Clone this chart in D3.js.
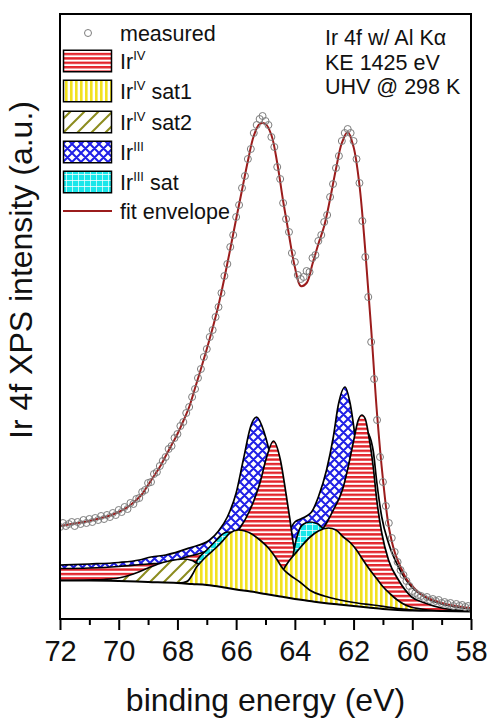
<!DOCTYPE html>
<html>
<head>
<meta charset="utf-8">
<script src="https://cdn.jsdelivr.net/npm/d3@7"></script>
<style>
  body { margin: 0; background: #fff; }
  svg text { font-family: "Liberation Sans", Arial, sans-serif; fill: #111; }
</style>
</head>
<body>
<svg id="chart" width="488" height="720"></svg>
<script>
// measured points, 72.0 -> 58.0 eV in 0.1 eV steps (a.u.)
const measured = [
  92, 96, 93, 95, 97, 93, 97, 95, 99, 96,
  100, 97, 101, 99, 103, 100, 104, 102, 106, 104,
  109, 107, 112, 110, 116, 115, 120, 121, 127, 129,
  136, 137, 145, 147, 153, 158, 162, 170, 173, 181,
  185, 193, 197, 206, 212, 222, 230, 241, 250, 262,
  270, 282, 289, 302, 312, 326, 343, 355, 372, 384,
  402, 414, 431, 443, 460, 470, 486, 494, 500, 503,
  498, 494, 482, 472, 452, 440, 416, 400, 387, 366,
  357, 344, 340, 342, 348, 347, 361, 364, 378, 384,
  397, 404, 422, 435, 451, 463, 478, 486, 490, 486,
  478, 460, 436, 398, 362, 322, 277, 240, 199, 162,
  137, 113, 96, 81, 67, 57, 49, 44, 38, 33,
  28, 26, 24, 23, 21, 22, 19, 20, 18, 19,
  16, 17, 15, 16, 13, 15, 13, 14, 12, 13,
  11
];
const measuredEnergy = d3.range(measured.length).map(i => +(72 - i * 0.1).toFixed(1));

// fit envelope, 72.0 -> 58.0 eV in 0.2 eV steps
const envelope = [
  93, 94, 95, 96, 97, 98, 99.5, 101, 102.5, 104.5,
  107, 110, 114, 119, 125, 134, 143, 152, 163, 174,
  185, 198, 212, 231, 250, 270, 291, 314, 341, 370,
  400, 429, 458, 483, 495, 495, 484, 456, 418, 384,
  352, 333, 336, 355, 375, 393, 420, 450, 476, 487,
  472, 434, 368, 290, 205, 140, 92, 67, 52, 40,
  33, 27, 23, 20, 18, 16, 14.5, 13.5, 12.5, 11.5,
  11
];
const envelopeEnergy = d3.range(envelope.length).map(i => +(72 - i * 0.2).toFixed(1));

// fit components as drawn (background included), [eV, intensity]
const background = [[72, 38.5], [71, 38.5], [70, 38], [69, 37], [68, 36], [67.5, 35], [67, 34], [66.5, 32],
  [66, 29.5], [65.5, 27.5], [65, 25], [64.5, 22.5], [64, 20], [63.5, 18], [63, 16], [62.5, 14.5], [62, 13],
  [61.5, 11.5], [61, 10], [60.5, 9], [60, 8.5], [59, 8], [58, 7.5]];

const ir3a = [[72, 54], [71, 55], [70, 56.5], [69.3, 59], [68.9, 62], [68.4, 64], [67.6, 71], [66.9, 79],
  [66.6, 88], [66.3, 102], [66.0, 126], [65.75, 160], [65.5, 193], [65.3, 202], [65.05, 187], [64.8, 158],
  [64.6, 125], [64.4, 95], [64.2, 72], [64.0, 56], [63.7, 43], [63.3, 32], [63, 27], [62.5, 21], [62, 17],
  [61, 11.5], [60, 9], [58, 7.5]];

const ir3b = [[72, 39], [68, 37], [67, 36], [66, 36], [65.5, 44], [65, 52], [64.5, 72], [64.2, 88], [64.0, 97],
  [63.8, 100], [63.6, 103], [63.43, 107], [63.2, 122], [62.92, 149], [62.69, 182], [62.52, 214], [62.29, 232],
  [62.12, 216], [61.9, 172], [61.7, 130], [61.5, 90], [61.3, 60], [61.0, 35], [60.5, 20], [60, 13], [59, 9],
  [58, 7.5]];

const ir4a = [[72, 50.5], [71, 51], [70, 52.5], [69, 55], [68.5, 56], [68, 59], [67.7, 62], [67.3, 65],
  [67, 68], [66.5, 75], [66.2, 81], [65.87, 91], [65.53, 109], [65.19, 136], [64.96, 162], [64.73, 178],
  [64.5, 160], [64.3, 125], [64.17, 100], [64.05, 75], [63.95, 62], [63.8, 48], [63.6, 36], [63.3, 27],
  [63, 22], [62.5, 18], [62, 15], [61, 11], [60, 8.5], [58, 7.5]];

const ir4b = [[72, 41], [70, 42], [68, 44], [66, 50], [65, 55], [64.5, 59], [64, 65], [63.5, 75], [63.2, 84],
  [62.92, 96], [62.69, 109], [62.5, 120], [62.35, 132], [62.2, 150], [62.0, 178], [61.85, 198], [61.72, 204],
  [61.6, 200], [61.5, 186], [61.33, 152], [61.21, 119], [61.04, 86], [60.81, 59], [60.47, 39], [60.02, 22],
  [59.57, 16], [59, 11], [58.5, 9], [58, 8]];

const ir3satA = [[68, 36], [67.8, 38], [67.5, 50], [67.3, 60], [67.0, 69], [66.7, 78], [66.5, 84], [66.3, 87],
  [66.1, 86], [65.9, 81], [65.6, 70], [65.3, 57], [65.0, 45], [64.6, 33], [64.2, 25], [63.8, 21], [63, 16]];

const ir3satB = [[65, 25], [64.6, 30], [64.3, 40], [64.1, 58], [63.95, 80], [63.75, 94], [63.5, 97],
  [63.25, 95.5], [63.0, 89], [62.7, 78], [62.4, 63], [62.0, 40], [61.6, 22], [61.2, 13], [61.0, 10], [60, 8.5]];

const sat2 = [[72, 38.5], [71, 39], [70.5, 39.5], [70, 41], [69.5, 45], [69, 51], [68.5, 56.5], [68, 59.5],
  [67.8, 60], [67.5, 58.5], [67.35, 56], [67, 52], [66.66, 45], [66.3, 39], [65.98, 34], [65.5, 29], [65, 26],
  [64.5, 22.5]];

const sat1a = [[68, 36], [67.8, 36.5], [67.65, 38], [67.5, 44], [67.35, 52], [67.23, 56], [67.0, 63],
  [66.66, 72], [66.4, 80], [66.21, 86], [65.93, 89], [65.7, 88], [65.53, 86], [65.19, 79], [64.9, 71],
  [64.62, 60], [64.4, 50], [64.17, 44], [63.83, 37], [63.5, 29], [63, 23], [62.46, 19], [62, 16.5],
  [61.34, 14], [60.5, 10.5], [60, 9], [59, 8], [58, 7.5]];

const sat1b = [[66, 29.5], [65.5, 27.5], [65, 27], [64.8, 30], [64.6, 38], [64.4, 49], [64.2, 58], [64.0, 65],
  [63.8, 72], [63.48, 82], [63.2, 88], [62.86, 91], [62.6, 89], [62.35, 82], [62.1, 76], [61.9, 69],
  [61.7, 60], [61.44, 49], [61.2, 40], [60.99, 32], [60.75, 25], [60.53, 19.5], [60.3, 15], [60.08, 12.3],
  [59.7, 10], [59.3, 8.5], [58.5, 7.8], [58, 7.5]];

// thin black curve just outside the Ir(IV) 4f7/2 peak
const outerEdge = [[61.5, 186], [61.4, 178], [61.33, 168], [61.21, 137], [61.04, 102], [60.81, 76],
  [60.47, 52], [60.02, 32], [59.57, 22], [59, 15], [58.5, 12], [58, 10]];

const majorTicks = [72, 70, 68, 66, 64, 62, 60, 58];
const minorTicks = [71, 69, 67, 65, 63, 61, 59];
const legendLabels = ['measured', 'Ir|IV|', 'Ir|IV| sat1', 'Ir|IV| sat2', 'Ir|III|', 'Ir|III| sat', 'fit envelope'];
const noteLines = ['Ir 4f w/ Al K\u03b1', 'KE 1425 eV', 'UHV @ 298 K'];

let margin = {top: 14, right: 17, bottom: 101, left: 60};
let width = 488 - margin.left - margin.right;
let height = 720 - margin.top - margin.bottom;

let x = d3.scaleLinear().domain([72, 58]).range([0, width]);
let y = d3.scaleLinear().domain([0, 605]).range([height, 0]);

let svg = d3.select('#chart');
let defs = svg.append('defs');

// fill patterns
let pRed = defs.append('pattern').attr('id', 'pIr4').attr('patternUnits', 'userSpaceOnUse')
    .attr('width', 6).attr('height', 4.4);
pRed.append('rect').attr('width', 6).attr('height', 4.4).attr('fill', '#fff');
pRed.append('rect').attr('width', 6).attr('height', 2.4).attr('fill', '#e3242b');

let pYel = defs.append('pattern').attr('id', 'pSat1').attr('patternUnits', 'userSpaceOnUse')
    .attr('width', 5).attr('height', 6);
pYel.append('rect').attr('width', 5).attr('height', 6).attr('fill', '#fff');
pYel.append('rect').attr('width', 2.6).attr('height', 6).attr('fill', '#f2e21f');

let pOl = defs.append('pattern').attr('id', 'pSat2').attr('patternUnits', 'userSpaceOnUse')
    .attr('width', 14).attr('height', 14);
pOl.append('rect').attr('width', 14).attr('height', 14).attr('fill', '#fff');
pOl.append('path').attr('d', 'M0,14 L14,0 M-2,2 L2,-2 M12,16 L16,12')
    .attr('stroke', '#8c8c1e').attr('stroke-width', 2);

let pBlue = defs.append('pattern').attr('id', 'pIr3').attr('patternUnits', 'userSpaceOnUse')
    .attr('width', 9).attr('height', 9);
pBlue.append('rect').attr('width', 9).attr('height', 9).attr('fill', '#fff');
pBlue.append('path').attr('d', 'M0,0 L9,9 M0,9 L9,0 M-1,1 L1,-1 M8,10 L10,8 M-1,8 L1,10 M8,-1 L10,1')
    .attr('stroke', '#1f1fe6').attr('stroke-width', 2);

let pCyan = defs.append('pattern').attr('id', 'pIr3sat').attr('patternUnits', 'userSpaceOnUse')
    .attr('width', 6).attr('height', 6);
pCyan.append('rect').attr('width', 6).attr('height', 6).attr('fill', '#19e6ea');
pCyan.append('path').attr('d', 'M0,0 L6,0 M0,0 L0,6').attr('stroke', '#fff').attr('stroke-width', 1.4);

defs.append('clipPath').attr('id', 'plotClip')
  .append('rect').attr('width', width).attr('height', height);

let chart = svg.append('g')
    .attr('transform', `translate(${margin.left},${margin.top})`);

let plot = chart.append('g').attr('clip-path', 'url(#plotClip)');

let compLine = d3.line()
    .x(d => x(d[0]))
    .y(d => y(d[1]))
    .curve(d3.curveMonotoneX);

let compArea = d3.area()
    .x(d => x(d[0]))
    .y0(y(0))
    .y1(d => y(d[1]))
    .curve(d3.curveMonotoneX);

// later layers cover earlier ones
let layers = [
  {data: ir3a, fill: 'url(#pIr3)'},
  {data: ir3b, fill: 'url(#pIr3)'},
  {data: ir4b, fill: 'url(#pIr4)'},
  {data: ir4a, fill: 'url(#pIr4)'},
  {data: ir3satA, fill: 'url(#pIr3sat)'},
  {data: ir3satB, fill: 'url(#pIr3sat)'},
  {data: sat2, fill: 'url(#pSat2)'},
  {data: sat1b, fill: 'url(#pSat1)'},
  {data: sat1a, fill: 'url(#pSat1)'}
];

layers.forEach(function(l) {
  plot.append('path').datum(l.data)
      .attr('d', compArea)
      .attr('fill', l.fill);
  plot.append('path').datum(l.data)
      .attr('d', compLine)
      .attr('fill', 'none')
      .attr('stroke', '#000')
      .attr('stroke-width', 1.7);
});

// white below the background, then the background line
plot.append('path').datum(background)
    .attr('d', d3.area().x(d => x(d[0])).y0(y(-5)).y1(d => y(d[1])).curve(d3.curveMonotoneX))
    .attr('fill', '#fff');
plot.append('path').datum(background)
    .attr('d', compLine)
    .attr('fill', 'none')
    .attr('stroke', '#000')
    .attr('stroke-width', 2);

plot.append('path').datum(outerEdge)
    .attr('d', compLine)
    .attr('fill', 'none')
    .attr('stroke', '#000')
    .attr('stroke-width', 1.7);

// fit envelope
plot.append('path').datum(envelope)
    .attr('d', d3.line()
      .x((d, i) => x(envelopeEnergy[i]))
      .y(d => y(d))
      .curve(d3.curveCatmullRom.alpha(0.5)))
    .attr('fill', 'none')
    .attr('stroke', '#9b1c1c')
    .attr('stroke-width', 2);

// measured points
plot.selectAll('.pt')
    .data(measured)
  .enter().append('circle')
    .attr('class', 'pt')
    .attr('cx', (d, i) => x(measuredEnergy[i]))
    .attr('cy', d => y(d))
    .attr('r', 3.5)
    .attr('fill', 'none')
    .attr('stroke', '#7d7d7d')
    .attr('stroke-width', 1);

// frame
chart.append('rect')
    .attr('width', width).attr('height', height)
    .attr('fill', 'none').attr('stroke', '#000').attr('stroke-width', 2);

// x axis, outward ticks
let xAxis = d3.axisBottom(x).tickValues(majorTicks).tickSize(11).tickPadding(10).tickFormat(d3.format('d'));
let xMinor = d3.axisBottom(x).tickValues(minorTicks).tickSize(6).tickFormat('');

let gx = chart.append('g').attr('transform', `translate(0,${height})`).call(xAxis);
chart.append('g').attr('transform', `translate(0,${height})`).call(xMinor)
    .call(g => g.select('.domain').remove())
    .selectAll('line').attr('stroke-width', 2);
gx.select('.domain').remove();
gx.selectAll('line').attr('stroke-width', 2);
gx.selectAll('text')
    .style('font-family', '"Liberation Sans", Arial, sans-serif')
    .style('font-size', '29px')
    .attr('fill', '#111');

chart.append('text')
    .attr('x', width / 2)
    .attr('y', 697)
    .style('text-anchor', 'middle')
    .style('font-size', '32px')
    .text('binding energy (eV)');

svg.append('text')
    .attr('transform', 'translate(32,270) rotate(-90)')
    .style('text-anchor', 'middle')
    .style('font-size', '32px')
    .text('Ir 4f XPS intensity (a.u.)');

// annotation, top right
svg.selectAll('.note')
    .data(noteLines)
  .enter().append('text')
    .attr('class', 'note')
    .attr('x', 325)
    .attr('y', (d, i) => 45 + i * 24.5)
    .style('font-size', '21.5px')
    .text(d => d);

// legend
let legend = svg.append('g');
let fills = [null, 'url(#pIr4)', 'url(#pSat1)', 'url(#pSat2)', 'url(#pIr3)', 'url(#pIr3sat)', null];
let rowY = [33, 61, 91, 122, 152, 182, 211];

legendLabels.forEach(function(lab, i) {
  let cy = rowY[i];
  if (i === 0) {
    legend.append('circle').attr('cx', 88).attr('cy', cy).attr('r', 3.5)
        .attr('fill', 'none').attr('stroke', '#7d7d7d').attr('stroke-width', 1);
  } else if (i === legendLabels.length - 1) {
    legend.append('line').attr('x1', 63).attr('x2', 112).attr('y1', cy).attr('y2', cy)
        .attr('stroke', '#9b1c1c').attr('stroke-width', 2);
  } else {
    legend.append('rect').attr('x', 63.5).attr('y', cy - 10.75).attr('width', 48).attr('height', 21.5)
        .attr('fill', fills[i]).attr('stroke', '#000').attr('stroke-width', 1.5);
  }
  let parts = lab.split('|');
  let t = legend.append('text')
      .attr('x', 120)
      .attr('y', cy + 7.5)
      .style('font-size', '21.5px');
  t.append('tspan').text(parts[0]);
  if (parts.length > 1) {
    t.append('tspan').attr('dy', -9).style('font-size', '13px').text(parts[1]);
    t.append('tspan').attr('dy', 9).text(parts[2]);
  }
});
</script>
</body>
</html>
